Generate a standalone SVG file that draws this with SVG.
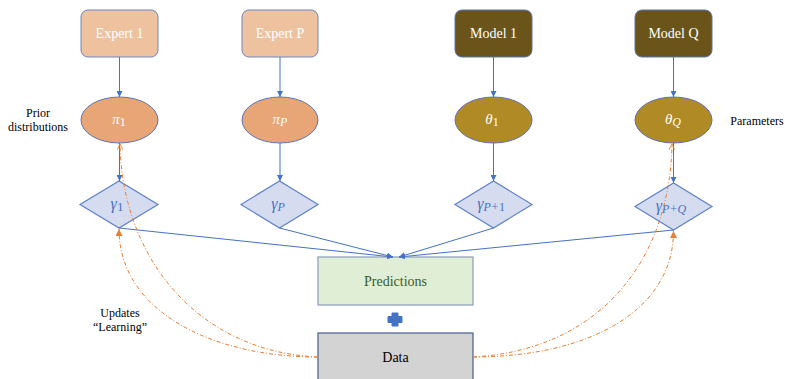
<svg xmlns="http://www.w3.org/2000/svg" width="785" height="379" viewBox="0 0 785 379">
<defs>
<marker id="ab" viewBox="0 0 10 10" refX="10" refY="5" markerWidth="6" markerHeight="6" orient="auto-start-reverse" markerUnits="userSpaceOnUse">
<path d="M0,0 L10,5 L0,10 z" fill="#4472c4"/>
</marker>
<marker id="ao" viewBox="0 0 10 10" refX="9" refY="5" markerWidth="7" markerHeight="7" orient="auto" markerUnits="userSpaceOnUse">
<path d="M1,1 L9,5 L1,9" fill="none" stroke="#ed7d31" stroke-width="1.3"/>
</marker>
<marker id="af" viewBox="0 0 10 10" refX="10" refY="5" markerWidth="7" markerHeight="7" orient="auto" markerUnits="userSpaceOnUse">
<path d="M0,0 L10,5 L0,10 z" fill="#ed7d31"/>
</marker>
</defs>
<style>
text{font-family:"Liberation Serif","Times New Roman",serif;}
.bx{font-size:14px;fill:#ffffff;text-anchor:middle;}
.mx{font-size:14px;fill:#ffffff;text-anchor:middle;}
.mt{font-size:15px;fill:#ffffff;text-anchor:middle;font-style:italic;}
.expert{fill:#eec29f;stroke:#6e85c2;stroke-width:1;}
.model{fill:#6a5419;stroke:#5b73b3;stroke-width:1;}
.pi{fill:#e8a676;stroke:#5b73b3;stroke-width:1;}
.th{fill:#b08a24;stroke:#5b73b3;stroke-width:1;}
.dia{fill:#d6dcef;stroke:#5f7fcb;stroke-width:1.2;}
.gm{font-size:16px;fill:#4472c4;text-anchor:middle;font-style:italic;}
.lbl{font-size:12px;fill:#000;text-anchor:middle;}
.cb{fill:none;stroke:#4472c4;stroke-width:1;}
.co{fill:none;stroke:#ed7d31;stroke-width:1;stroke-dasharray:4 2 1 2;}
</style>

<g id="expert1"><rect class="expert" x="81" y="10" width="77" height="47" rx="7"/><text class="bx" font-family="Liberation Serif, serif" x="119.5" y="38">Expert 1</text></g>
<g id="expertP"><rect class="expert" x="242" y="10" width="76" height="47" rx="7"/><text class="bx" font-family="Liberation Serif, serif" x="280" y="38">Expert P</text></g>
<g id="model1"><rect class="model" x="455" y="10" width="77" height="47" rx="7"/><text class="mx" font-family="Liberation Serif, serif" x="493.5" y="38">Model 1</text></g>
<g id="modelQ"><rect class="model" x="635" y="10" width="77" height="47" rx="7"/><text class="mx" font-family="Liberation Serif, serif" x="673.5" y="38">Model Q</text></g>

<g id="pi1"><ellipse class="pi" cx="119.5" cy="120" rx="38.5" ry="23"/><text class="mt" font-family="Liberation Serif, serif" x="119" y="124">π<tspan font-size="12" font-style="normal" dy="2">1</tspan></text></g>
<g id="piP"><ellipse class="pi" cx="280" cy="120" rx="38" ry="23"/><text class="mt" font-family="Liberation Serif, serif" x="280" y="124">π<tspan font-size="12" dy="2">P</tspan></text></g>
<g id="theta1"><ellipse class="th" cx="493.5" cy="120" rx="38.5" ry="23"/><text class="mt" font-family="Liberation Serif, serif" x="492" y="124">θ<tspan font-size="12" font-style="normal" dy="2">1</tspan></text></g>
<g id="thetaQ"><ellipse class="th" cx="673.5" cy="120" rx="38.5" ry="23"/><text class="mt" font-family="Liberation Serif, serif" x="673" y="124">θ<tspan font-size="12" dy="2">Q</tspan></text></g>

<g id="gamma1"><path class="dia" d="M80,204.5 L119,181 L158,204.5 L119,228 z"/><text class="gm" font-family="Liberation Serif, serif" x="117" y="209">γ<tspan font-size="13" font-style="normal" dy="2">1</tspan></text></g>
<g id="gammaP"><path class="dia" d="M241,204.5 L279.5,181 L318,204.5 L279.5,228 z"/><text class="gm" font-family="Liberation Serif, serif" x="278" y="209">γ<tspan font-size="12" dy="2">P</tspan></text></g>
<g id="gammaP1"><path class="dia" d="M455,204.5 L493.5,181 L532,204.5 L493.5,228 z"/><text class="gm" font-family="Liberation Serif, serif" x="491" y="209">γ<tspan font-size="12" dy="2">P+<tspan font-style="normal">1</tspan></tspan></text></g>
<g id="gammaPQ"><path class="dia" d="M635,206.5 L673.5,183 L712,206.5 L673.5,230 z"/><text class="gm" font-family="Liberation Serif, serif" x="671" y="211">γ<tspan font-size="12" dy="2">P+Q</tspan></text></g>

<g id="predictions"><rect x="318" y="257" width="155" height="48" fill="#e0eed6" stroke="#8a9dbb" stroke-width="1.2"/><text font-family="Liberation Serif, serif" x="395.5" y="286" font-size="14" fill="#3c5a28" text-anchor="middle">Predictions</text></g>
<g id="plus"><path d="M392,313 H398 V316.5 H402 V322.5 H398 V326 H392 V322.5 H388 V316.5 H392 z" fill="#4472c4" stroke="#4472c4" stroke-width="1" stroke-linejoin="round"/></g>
<g id="data"><rect x="318" y="333" width="155" height="60" fill="#d3d3d3" stroke="#4a5d8c" stroke-width="1.2"/><text font-family="Liberation Serif, serif" x="395.5" y="362" font-size="14" fill="#000" text-anchor="middle">Data</text></g>

<g id="labels" font-family="Liberation Serif, serif">
<text class="lbl" font-family="Liberation Serif, serif" x="38" y="117">Prior</text>
<text class="lbl" font-family="Liberation Serif, serif" x="38" y="131">distributions</text>
<text class="lbl" font-family="Liberation Serif, serif" x="757" y="125" font-size="11.5">Parameters</text>
<text class="lbl" font-family="Liberation Serif, serif" x="120" y="317">Updates</text>
<text class="lbl" font-family="Liberation Serif, serif" x="120" y="331">“Learning”</text>
</g>

<g id="connectors">
<line class="cb" x1="119.5" y1="57" x2="119.5" y2="97" marker-end="url(#ab)"/>
<line class="cb" x1="280" y1="57" x2="280" y2="97" marker-end="url(#ab)"/>
<line class="cb" x1="493.5" y1="57" x2="493.5" y2="97" marker-end="url(#ab)"/>
<line class="cb" x1="673.5" y1="57" x2="673.5" y2="97" marker-end="url(#ab)"/>
<line class="cb" x1="119.5" y1="143" x2="119.5" y2="181" marker-end="url(#ab)"/>
<line class="cb" x1="280" y1="143" x2="280" y2="181" marker-end="url(#ab)"/>
<line class="cb" x1="493.5" y1="143" x2="493.5" y2="181" marker-end="url(#ab)"/>
<line class="cb" x1="673.5" y1="143" x2="673.5" y2="183" marker-end="url(#ab)"/>
<line class="cb" x1="119" y1="228" x2="393" y2="257" marker-end="url(#ab)"/>
<line class="cb" x1="279.5" y1="228" x2="393" y2="257" marker-end="url(#ab)"/>
<line class="cb" x1="493.5" y1="228" x2="399" y2="257" marker-end="url(#ab)"/>
<line class="cb" x1="673.5" y1="230" x2="399" y2="257" marker-end="url(#ab)"/>
<path class="co" d="M318,357 C210,357 119,310 119,229" marker-end="url(#af)"/>
<path class="co" d="M318,357 C200,352 122,260 120,144" marker-end="url(#ao)"/>
<path class="co" d="M473,357 C590,357 673.5,310 673.5,231" marker-end="url(#af)"/>
<path class="co" d="M473,357 C600,350 670,260 672,144" marker-end="url(#ao)"/>
</g>
</svg>
